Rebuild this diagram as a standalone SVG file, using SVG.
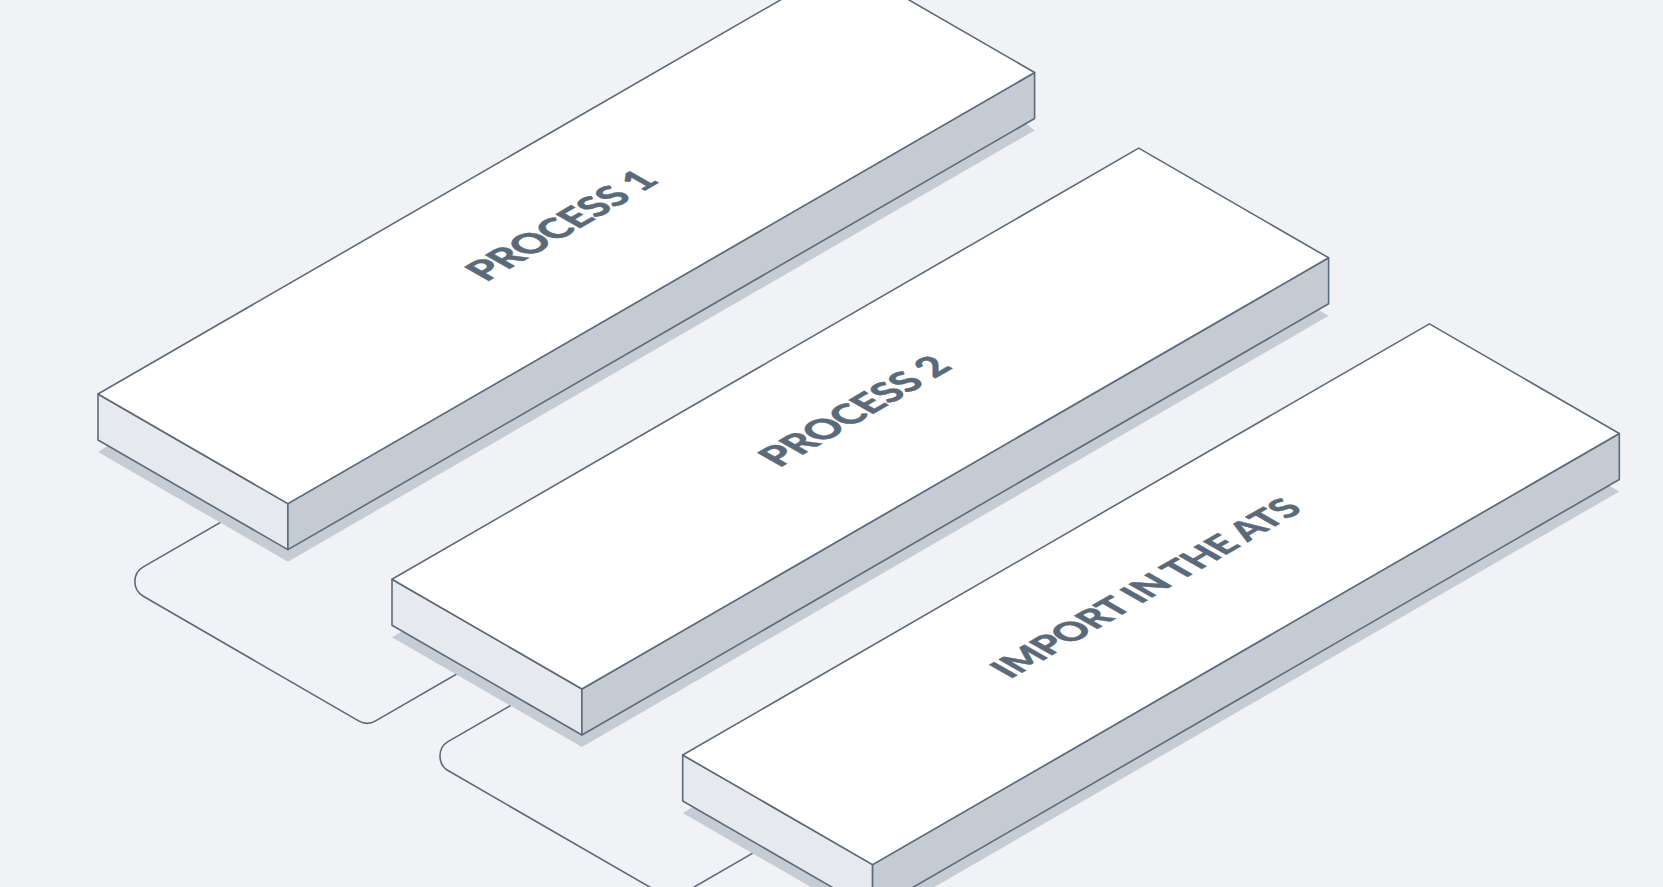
<svg xmlns="http://www.w3.org/2000/svg" width="1663" height="887" viewBox="0 0 1663 887">
<style>
.bg{fill:#f0f2f5}
.top{fill:#ffffff;stroke:#5c6b7b;stroke-width:1.6;stroke-linejoin:round}
.lf{fill:#e6e9ed;stroke:#5c6b7b;stroke-width:1.6;stroke-linejoin:round}
.rf{fill:#c4cbd3;stroke:#5c6b7b;stroke-width:1.6;stroke-linejoin:round}
.sh{fill:#c6ccd4}
.conn{fill:none;stroke:#5c6b7b;stroke-width:1.6;stroke-linecap:round;stroke-linejoin:round}
.lbl{font-family:Lato,"Liberation Sans",sans-serif;font-weight:900;font-size:39px;letter-spacing:-0.3px;fill:#5a6a7b;stroke:#5a6a7b;stroke-width:0.5;text-anchor:middle}
.small{font-size:37px;letter-spacing:-0.4px}
</style>
<rect class="bg" x="0" y="0" width="1663" height="887"/>
<g id="connectors">
<path class="conn" d="M254.6,502.7 L143.3,566.9 A17,17 0 0 0 143.3,596.3 L358.6,720.9 A17,17 0 0 0 375.6,720.9 L499.6,649.3"/>
<path class="conn" d="M552.8,681.1 L448.4,741.4 A17,17 0 0 0 448.4,770.8 L663.4,894.95 A17,17 0 0 0 680.4,894.95 L784.5,834.85"/>
</g>
<g id="process1">
<polygon class="sh" points="98,452 287.9,561.65 1034.6,130.5 844.7,-25.15"/>
<polygon class="lf" points="98,394 287.9,503.65 287.9,549.65 98,440"/>
<polygon class="rf" points="287.9,503.65 1034.6,72.5 1034.6,118.5 287.9,549.65"/>
<polygon class="top" points="98,394 287.9,503.65 1034.6,72.5 844.7,-37.15"/>
<g transform="translate(566.3,233.25) matrix(0.866,-0.5,0.866,0.5,0,0)"><text class="lbl" x="5" y="3">PROCESS 1</text></g>
</g>
<g id="process2">
<polygon class="sh" points="392,637.3 581.9,746.95 1328.6,315.8 1138.7,206.15"/>
<polygon class="lf" points="392,579.3 581.9,688.95 581.9,734.95 392,625.3"/>
<polygon class="rf" points="581.9,688.95 1328.6,257.8 1328.6,303.8 581.9,734.95"/>
<polygon class="top" points="392,579.3 581.9,688.95 1328.6,257.8 1138.7,148.15"/>
<g transform="translate(860.3,418.55) matrix(0.866,-0.5,0.866,0.5,0,0)"><text class="lbl" x="4" y="3">PROCESS 2</text></g>
</g>
<g id="import">
<polygon class="sh" points="682.7,813 872.6,922.65 1619.3,491.5 1429.4,381.85"/>
<polygon class="lf" points="682.7,755 872.6,864.65 872.6,910.65 682.7,801"/>
<polygon class="rf" points="872.6,864.65 1619.3,433.5 1619.3,479.5 872.6,910.65"/>
<polygon class="top" points="682.7,755 872.6,864.65 1619.3,433.5 1429.4,323.85"/>
<g transform="translate(1151,594.25) matrix(0.866,-0.5,0.866,0.5,0,0)"><text class="lbl small" x="3" y="4">IMPORT IN THE ATS</text></g>
</g>
</svg>
